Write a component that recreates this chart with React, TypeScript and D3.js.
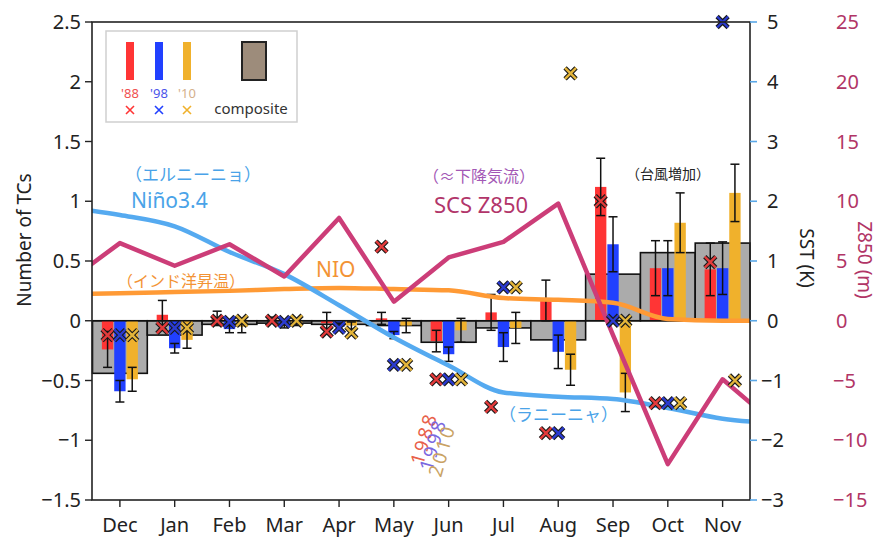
import * as d3 from "d3";

const months = ["Dec", "Jan", "Feb", "Mar", "Apr", "May", "Jun", "Jul", "Aug", "Sep", "Oct", "Nov"];
const years = ["88", "98", "10"];

// composite anomaly (number of TCs)
const composite = [-0.44, -0.12, -0.03, -0.02, -0.03, -0.04, -0.18, -0.06, -0.16, 0.39, 0.57, 0.65];

// per-year bars and their error half widths
const bar88 = [-0.24, 0.05, 0.02, 0.01, -0.02, 0.02, -0.17, 0.07, 0.17, 1.12, 0.44, 0.43];
const err88 = [0.15, 0.12, 0.06, 0.02, 0.09, 0.05, 0.09, 0.15, 0.17, 0.24, 0.23, 0.22];
const bar98 = [-0.59, -0.23, -0.07, -0.04, -0.05, -0.12, -0.28, -0.22, -0.26, 0.64, 0.44, 0.44];
const err98 = [0.09, 0.04, 0.03, 0.02, 0.03, 0.03, 0.06, 0.12, 0.14, 0.23, 0.23, 0.22];
const bar10 = [-0.49, -0.16, -0.05, -0.02, -0.04, -0.04, -0.08, -0.06, -0.41, -0.6, 0.82, 1.07];
const err10 = [0.1, 0.07, 0.05, 0.02, 0.03, 0.06, 0.1, 0.13, 0.13, 0.16, 0.25, 0.24];

// single-year counts (x markers)
const x88 = [-0.12, -0.06, 0.0, 0.0, -0.09, 0.62, -0.49, -0.72, -0.94, 1.0, -0.69, 0.49];
const x98 = [-0.12, -0.06, -0.01, -0.01, -0.06, -0.37, -0.49, 0.28, -0.94, 0.0, -0.69, 2.5];
const x10 = [-0.12, -0.06, 0.0, 0.0, -0.1, -0.37, -0.49, 0.28, 2.07, 0.0, -0.69, -0.5];

// line series: index -1 (previous Nov) .. 12 (following Dec)
const lineIdx = d3.range(-1, 13);
const nino34 = [1.9, 1.77, 1.58, 1.15, 0.78, 0.26, -0.28, -0.75, -1.2, -1.27, -1.31, -1.46, -1.64, -1.72];
const nio = [0.44, 0.46, 0.48, 0.5, 0.53, 0.55, 0.53, 0.51, 0.38, 0.35, 0.3, 0.03, 0.0, 0.0];
const z850 = [3.1, 6.5, 4.6, 6.4, 3.7, 8.6, 1.6, 5.3, 6.6, 9.8, -1.2, -12.0, -4.9, -8.8];

const leftTicks = [-1.5, -1, -0.5, 0, 0.5, 1, 1.5, 2, 2.5];
const sstTicks = [-3, -2, -1, 0, 1, 2, 3, 4, 5];
const zTicks = [-15, -10, -5, 0, 5, 10, 15, 20, 25];
const yearLabels = ["1988", "1998", "2010"];

const yearColor = { "88": "#ff3535", "98": "#2140ff", "10": "#f0b12c" };
const xColor = { "88": "#e33b3b", "98": "#2b3bcf", "10": "#e4b53a" };
const yearTextColor = ["#e8604a", "#7a68e0", "#c9a264"];

const FONT = "'Noto Sans', 'Noto Sans CJK JP', sans-serif";
const L = 92, R = 750, T = 22, B = 500;

function XMark({ cx, cy, color, s = 5.5, outline = true }) {
  const d = `M${cx - s},${cy - s}L${cx + s},${cy + s}M${cx - s},${cy + s}L${cx + s},${cy - s}`;
  return (
    <g>
      {outline && <path d={d} stroke="#1a1a1a" strokeWidth={4.6} />}
      <path d={d} stroke={color} strokeWidth={outline ? 2.4 : 1.6} />
    </g>
  );
}

export default function App() {
  const x = d3.scaleBand().domain(months).range([L + 0.5, R]);
  const bw = x.bandwidth();
  const sub = d3.scaleBand().domain(years).range([-18, 18]).paddingInner(0.08);
  const yL = d3.scaleLinear().domain([-1.5, 2.5]).range([B, T]);
  const ySST = d3.scaleLinear().domain([-3, 5]).range([B, T]);
  const yZ = d3.scaleLinear().domain([-15, 25]).range([B, T]);
  const xi = d3.scaleLinear().domain([0, 11]).range([x("Dec") + bw / 2, x("Nov") + bw / 2]);

  const bars = { "88": bar88, "98": bar98, "10": bar10 };
  const errs = { "88": err88, "98": err98, "10": err10 };
  const marks = { "88": x88, "98": x98, "10": x10 };

  const lineSST = d3.line().x((d) => xi(d[0])).y((d) => ySST(d[1])).curve(d3.curveMonotoneX);
  const lineZ = d3.line().x((d) => xi(d[0])).y((d) => yZ(d[1]));

  return (
    <svg width={881} height={541} style={{ position: "absolute", left: 0, top: 0, background: "white" }} fontFamily={FONT}>
      <defs>
        <clipPath id="plot">
          <rect x={L} y={T} width={R - L} height={B - T} />
        </clipPath>
      </defs>

      {/* composite bars */}
      {months.map((m, i) => {
        const v = composite[i];
        return (
          <rect key={m} x={x(m)} y={Math.min(yL(v), yL(0))} width={bw} height={Math.abs(yL(v) - yL(0))}
            fill="#ababab" stroke="#111" strokeWidth={1.6} />
        );
      })}

      {/* per-year bars */}
      {years.map((yr) =>
        months.map((m, i) => {
          const v = bars[yr][i];
          return (
            <rect key={yr + m} x={x(m) + bw / 2 + sub(yr)} y={Math.min(yL(v), yL(0))} width={sub.bandwidth()}
              height={Math.abs(yL(v) - yL(0))} fill={yearColor[yr]} />
          );
        })
      )}

      <line x1={L} x2={R} y1={yL(0)} y2={yL(0)} stroke="#111" strokeWidth={1.6} />

      {/* error bars */}
      {years.map((yr) =>
        months.map((m, i) => {
          const cx = x(m) + bw / 2 + sub(yr) + sub.bandwidth() / 2;
          const v = bars[yr][i], e = errs[yr][i];
          const y1 = yL(v + e), y2 = yL(v - e);
          return (
            <g key={"e" + yr + m} stroke="#111" strokeWidth={1.5}>
              <line x1={cx} x2={cx} y1={y1} y2={y2} />
              <line x1={cx - 4.5} x2={cx + 4.5} y1={y1} y2={y1} />
              <line x1={cx - 4.5} x2={cx + 4.5} y1={y2} y2={y2} />
            </g>
          );
        })
      )}

      {/* lines */}
      <g clipPath="url(#plot)" fill="none" strokeLinejoin="round">
        <path d={lineSST(lineIdx.map((k, j) => [k, nio[j]]))} stroke="#ff9a35" strokeWidth={4.5} />
        <path d={lineSST(lineIdx.map((k, j) => [k, nino34[j]]))} stroke="#55aaf0" strokeWidth={4.5} />
        <path d={lineZ(lineIdx.map((k, j) => [k, z850[j]]))} stroke="#cc3d78" strokeWidth={4.5} />
      </g>

      {/* x markers */}
      {years.map((yr) =>
        months.map((m, i) => (
          <XMark key={"x" + yr + m} cx={x(m) + bw / 2 + sub(yr) + sub.bandwidth() / 2} cy={yL(marks[yr][i])}
            color={xColor[yr]} />
        ))
      )}

      {/* frame */}
      <rect x={L} y={T} width={R - L} height={B - T} fill="none" stroke="#222" strokeWidth={1.6} />

      {/* left axis */}
      {leftTicks.map((t) => (
        <g key={"l" + t}>
          <line x1={L - 7} x2={L} y1={yL(t)} y2={yL(t)} stroke="#222" strokeWidth={1.4} />
          <text x={L - 11} y={yL(t) + 7} textAnchor="end" fontSize={20} fill="#222">
            {t < 0 ? "\u2212" + Math.abs(t) : t}
          </text>
        </g>
      ))}
      <text transform={`translate(31,240) rotate(-90)`} textAnchor="middle" fontSize={19} fill="#222">
        Number of TCs
      </text>

      {/* bottom axis */}
      {months.map((m) => (
        <g key={"b" + m}>
          <line x1={x(m) + bw / 2} x2={x(m) + bw / 2} y1={B} y2={B + 7} stroke="#222" strokeWidth={1.4} />
          <text x={x(m) + bw / 2} y={532} textAnchor="middle" fontSize={20} fill="#222">{m}</text>
        </g>
      ))}

      {/* SST axis */}
      {sstTicks.map((t) => (
        <g key={"s" + t}>
          <line x1={R} x2={R + 7} y1={ySST(t)} y2={ySST(t)} stroke="#5aa8e8" strokeWidth={1.6} />
          <text x={t < 0 ? 761 : 767} y={ySST(t) + 7} fontSize={20} fill="#222">
            {t < 0 ? "\u2212" + Math.abs(t) : t}
          </text>
        </g>
      ))}
      <text transform={`translate(800,258) rotate(90)`} textAnchor="middle" fontSize={19} fill="#222">SST (K)</text>

      {/* Z850 axis */}
      {zTicks.map((t) => (
        <text key={"z" + t} x={t < 0 ? 833 : 836} y={yZ(t) + 7} fontSize={20} fill="#b13566">
          {t < 0 ? "\u2212" + Math.abs(t) : t}
        </text>
      ))}
      <text transform={`translate(858,260) rotate(90)`} textAnchor="middle" fontSize={19} fill="#b13566">Z850 (m)</text>

      {/* annotations */}
      <text x={125} y={181} fontSize={17} fill="#4aa3e8">（エルニーニョ）</text>
      <text x={131} y={208} fontSize={21} fill="#4aa3e8">Niño3.4</text>
      <text x={117} y={287} fontSize={16} fill="#f39335">（インド洋昇温）</text>
      <text x={316} y={277} fontSize={21} fill="#f39335">NIO</text>
      <text x={423} y={182} fontSize={16} fill="#a358b5">（≈下降気流）</text>
      <text x={434} y={213} fontSize={22} fill="#b2356a">SCS Z850</text>
      <text x={626} y={179} fontSize={14} fill="#222">（台風増加）</text>
      <text x={499} y={421} fontSize={17} fill="#4aa3e8">（ラニーニャ）</text>
      {yearLabels.map((s, k) => (
        <text key={s} transform={`translate(${423 + k * 9},${466 + k * 6}) rotate(-74)`} fontSize={19}
          letterSpacing={2.5} fill={yearTextColor[k]}>{s}</text>
      ))}

      {/* legend */}
      <g>
        <rect x={106} y={31} width={191} height={91} fill="white" stroke="#cfcfcf" strokeWidth={1.5} />
        {years.map((yr, k) => {
          const cx = [130, 159, 187][k];
          return (
            <g key={"lg" + yr}>
              <rect x={cx - 4} y={42} width={8} height={38} fill={yearColor[yr]} />
              <text x={cx} y={98} textAnchor="middle" fontSize={13}
                fill={{ "88": "#f05050", "98": "#4b55ea", "10": "#d4b08c" }[yr]}>{"'" + yr}</text>
              <XMark cx={cx} cy={110} color={yearColor[yr]} s={4} outline={false} />
            </g>
          );
        })}
        <rect x={242} y={42} width={24} height={38} fill="#9d8c7b" stroke="#222" strokeWidth={2} />
        <text x={251} y={114} textAnchor="middle" fontSize={15} fill="#333">composite</text>
      </g>
    </svg>
  );
}
